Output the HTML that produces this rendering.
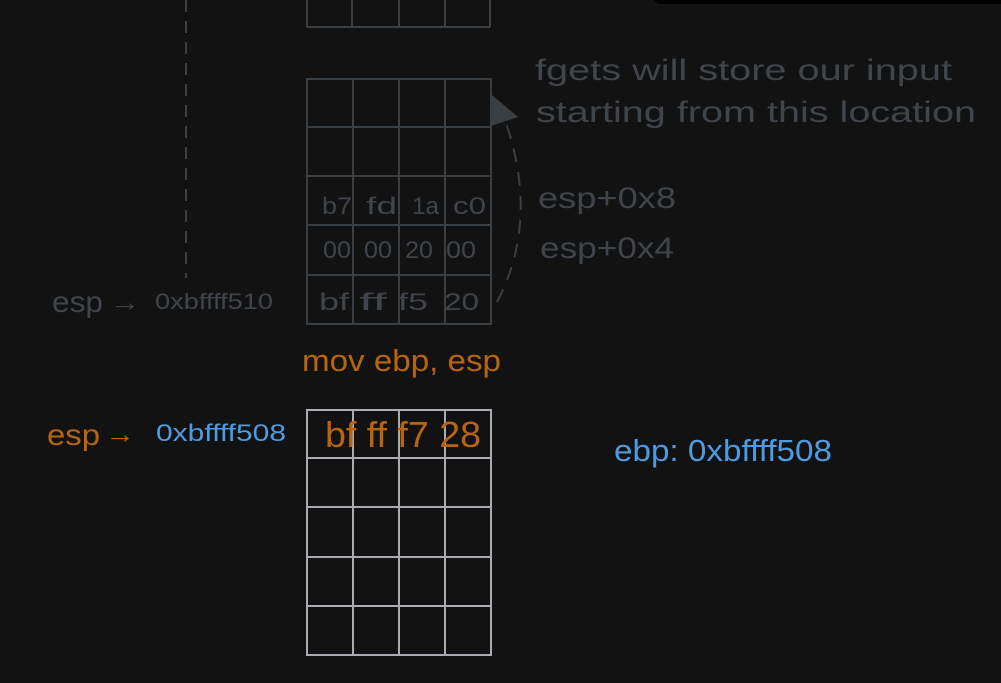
<!DOCTYPE html>
<html><head><style>
html,body{margin:0;padding:0;background:#121212;}
svg{display:block}
</style></head><body>
<svg width="1001" height="683" viewBox="0 0 1001 683" xmlns="http://www.w3.org/2000/svg" font-family="Liberation Sans, sans-serif">
<rect width="1001" height="683" fill="#121212"/>
<rect x="653" y="-20" width="400" height="24" rx="8" fill="#000"/>
<line x1="186" y1="0" x2="186" y2="278" stroke="#3a3f44" stroke-width="2" stroke-dasharray="12 9"/>
<g stroke="#3a3f44" stroke-width="2" fill="none">
<line x1="307" y1="0" x2="307" y2="27"/><line x1="352" y1="0" x2="352" y2="27"/><line x1="399" y1="0" x2="399" y2="27"/><line x1="445" y1="0" x2="445" y2="27"/><line x1="490" y1="0" x2="490" y2="27"/>
<line x1="307" y1="27" x2="490" y2="27"/>
<rect x="307" y="79" width="184" height="245"/>
<line x1="307" y1="127" x2="491" y2="127"/><line x1="307" y1="176" x2="491" y2="176"/><line x1="307" y1="225" x2="491" y2="225"/><line x1="307" y1="275" x2="491" y2="275"/>
<line x1="353" y1="79" x2="353" y2="324"/><line x1="399" y1="79" x2="399" y2="324"/><line x1="445" y1="79" x2="445" y2="324"/>
<path d="M497 302 Q540 220 505 120" stroke-dasharray="14 10"/>
</g>
<polygon points="492,95 518,117 491,126" fill="#3a3f44"/>
<g fill="#3f454b" font-size="24">
<text x="322" y="214" textLength="30" lengthAdjust="spacingAndGlyphs">b7</text><text x="366" y="214" textLength="31" lengthAdjust="spacingAndGlyphs">fd</text><text x="412" y="214" textLength="27" lengthAdjust="spacingAndGlyphs">1a</text><text x="453" y="214" textLength="33" lengthAdjust="spacingAndGlyphs">c0</text>
<text x="323" y="258" textLength="28" lengthAdjust="spacingAndGlyphs">00</text><text x="364" y="258" textLength="28" lengthAdjust="spacingAndGlyphs">00</text><text x="405" y="258" textLength="28" lengthAdjust="spacingAndGlyphs">20</text><text x="446" y="258" textLength="30" lengthAdjust="spacingAndGlyphs">00</text>
<text x="319" y="310" textLength="30" lengthAdjust="spacingAndGlyphs">bf</text><text x="359" y="310" textLength="28" lengthAdjust="spacingAndGlyphs">ff</text><text x="398" y="310" textLength="30" lengthAdjust="spacingAndGlyphs">f5</text><text x="444" y="310" textLength="35" lengthAdjust="spacingAndGlyphs">20</text>
</g>
<g fill="#3f454b">
<text x="535" y="80" font-size="30" textLength="417" lengthAdjust="spacingAndGlyphs">fgets will store our input</text>
<text x="536" y="122" font-size="30" textLength="440" lengthAdjust="spacingAndGlyphs">starting from this location</text>
<text x="538" y="208" font-size="30" textLength="138" lengthAdjust="spacingAndGlyphs">esp+0x8</text>
<text x="540" y="258" font-size="30" textLength="134" lengthAdjust="spacingAndGlyphs">esp+0x4</text>
<text x="52" y="312" font-size="30" textLength="51" lengthAdjust="spacingAndGlyphs">esp</text>
<text x="110" y="311" font-size="26" textLength="30" lengthAdjust="spacingAndGlyphs">→</text>
<text x="155" y="309" font-size="22" textLength="118" lengthAdjust="spacingAndGlyphs">0xbffff510</text>
</g>
<text x="302" y="371" font-size="31" fill="#b8650f" textLength="199" lengthAdjust="spacingAndGlyphs">mov ebp, esp</text>
<text x="47" y="445" font-size="30" fill="#b8650f" textLength="53" lengthAdjust="spacingAndGlyphs">esp</text>
<text x="105" y="443" font-size="26" fill="#b8650f" textLength="30" lengthAdjust="spacingAndGlyphs">→</text>
<text x="156" y="441" font-size="24" fill="#4e9be0" textLength="130" lengthAdjust="spacingAndGlyphs">0xbffff508</text>
<g stroke="#a9adb1" stroke-width="2" fill="none">
<rect x="307" y="410" width="184" height="245"/>
<line x1="307" y1="458" x2="491" y2="458"/><line x1="307" y1="507" x2="491" y2="507"/><line x1="307" y1="557" x2="491" y2="557"/><line x1="307" y1="606" x2="491" y2="606"/>
<line x1="353" y1="410" x2="353" y2="655"/><line x1="399" y1="410" x2="399" y2="655"/><line x1="445" y1="410" x2="445" y2="655"/>
</g>
<text x="325" y="447" font-size="36" fill="#b8650f" textLength="156" lengthAdjust="spacingAndGlyphs">bf ff f7 28</text>
<text x="614" y="461" font-size="31" fill="#4e9be0" textLength="218" lengthAdjust="spacingAndGlyphs">ebp: 0xbffff508</text>
</svg>
</body></html>
